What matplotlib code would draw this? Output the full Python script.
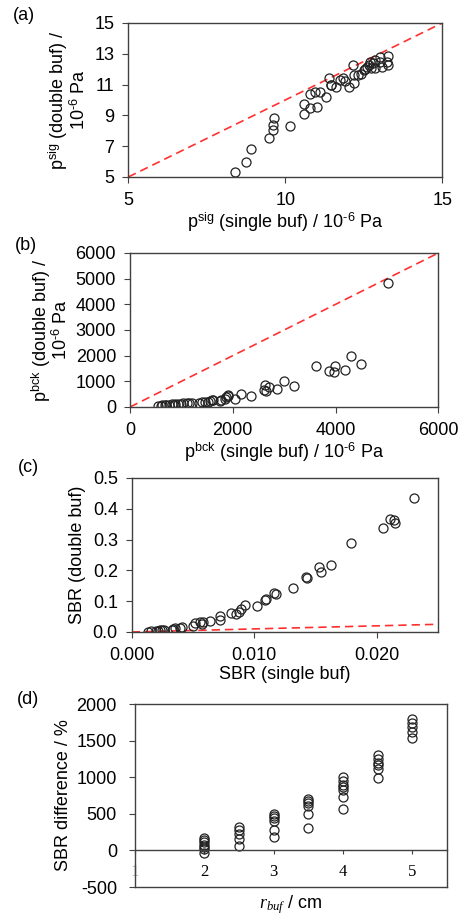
import matplotlib
matplotlib.use("Agg")
import matplotlib.pyplot as plt
import numpy as np

plt.rcParams['font.family'] = ['Liberation Sans', 'DejaVu Sans']
plt.rcParams['mathtext.fontset'] = 'custom'
plt.rcParams['mathtext.rm'] = 'Liberation Sans'
plt.rcParams['mathtext.it'] = 'Liberation Serif:italic'
plt.rcParams['mathtext.bf'] = 'Liberation Sans:bold'
plt.rcParams['axes.unicode_minus'] = False

# (a) p_sig single vs double buffer
a_single = [8.4, 8.75, 8.9, 9.47, 9.61, 9.61, 9.65, 10.14, 10.6, 10.6, 10.78, 11.0,
            10.8, 10.96, 11.1, 11.3, 11.38, 11.44, 11.62, 11.75, 11.85, 12.02, 12.16,
            12.18, 12.2, 12.4, 12.5, 12.6, 12.69, 12.73, 12.87, 12.87, 13.03, 13.08,
            13.24, 13.26, 13.26, 12.78, 12.67, 13.03, 11.9, 11.45, 12.3, 12.55]
a_double = [5.34, 5.95, 6.8, 7.5, 8.05, 8.37, 8.81, 8.31, 9.07, 9.74, 9.46, 9.52,
            10.39, 10.5, 10.5, 10.21, 11.41, 10.98, 10.82, 11.27, 11.4, 10.82, 12.27,
            11.62, 11.12, 11.67, 11.95, 12.15, 12.49, 12.06, 12.59, 12.06, 12.81, 12.16,
            12.49, 12.85, 12.27, 12.38, 12.27, 12.49, 11.2, 10.95, 11.6, 12.0]

# (b) p_bck single vs double buffer
b_single = [5030, 4300, 4500, 4190, 3980, 3870, 3960, 3620, 3200, 3000, 2870, 2700,
            2620, 2600, 2650, 2360, 2160, 2050, 1900, 1870, 1840, 1750, 1600, 1520,
            1450, 1410, 1350, 1200, 1140, 1040, 940, 880, 810, 750, 680, 620, 550,
            1560, 1620, 1780, 1900, 1110, 990, 860, 700, 600]
b_double = [4850, 2000, 1660, 1460, 1600, 1420, 1350, 1580, 830, 1020, 690, 760,
            840, 650, 610, 440, 520, 330, 420, 370, 300, 240, 280, 180,
            200, 180, 150, 170, 160, 140, 130, 110, 100, 90, 80, 60, 40,
            240, 260, 290, 450, 140, 100, 80, 60, 50]

# (c) SBR single vs double buffer
c_single = [0.02299, 0.02108, 0.0214, 0.0215, 0.02046, 0.01786, 0.01623, 0.01527,
            0.0154, 0.01418, 0.01431, 0.01317, 0.01164, 0.0118, 0.01099, 0.0109,
            0.01023, 0.00921, 0.00894, 0.00875, 0.00808, 0.0085, 0.00717, 0.0072,
            0.00635, 0.00572, 0.00585, 0.00553, 0.0052, 0.005, 0.00409, 0.00396,
            0.00355, 0.0034, 0.0033, 0.00245, 0.0023, 0.00217, 0.002, 0.0016,
            0.00133, 0.0026]
c_double = [0.434, 0.367, 0.364, 0.353, 0.337, 0.288, 0.218, 0.212,
            0.196, 0.178, 0.175, 0.144, 0.128, 0.123, 0.106, 0.105,
            0.085, 0.088, 0.074, 0.066, 0.063, 0.058, 0.052, 0.040,
            0.036, 0.025, 0.034, 0.034, 0.029, 0.021, 0.017, 0.012,
            0.012, 0.009, 0.007, 0.005, 0.007, 0.004, 0.004, 0.002,
            0.000, 0.007]

# (d) SBR difference vs buffer radius
d_rbuf = [2, 2, 2, 2, 2, 2, 2,
          2.5, 2.5, 2.5, 2.5, 2.5,
          3, 3, 3, 3, 3, 3,
          3.5, 3.5, 3.5, 3.5, 3.5, 3.5,
          4, 4, 4, 4, 4, 4, 4,
          4.5, 4.5, 4.5, 4.5, 4.5, 4.5,
          5, 5, 5, 5, 5]
d_diff = [170, 140, 110, 80, 50, 20, -30,
          320, 280, 230, 150, 60,
          500, 470, 440, 400, 280, 180,
          700, 680, 650, 600, 500, 310,
          1000, 950, 900, 860, 830, 730, 570,
          1310, 1250, 1200, 1160, 1110, 990,
          1800, 1740, 1680, 1620, 1530]

fig = plt.figure(figsize=(4.68, 9.15), dpi=100)

spine_col = '#404040'
fs = 13
mk = dict(marker='o', linestyle='none', markersize=6.5, markerfacecolor='none',
          markeredgecolor='#222222', markeredgewidth=0.9)
red = dict(color='#ff3030', linestyle=(0, (5, 3)), linewidth=1.2)


def style(ax):
    for s in ax.spines.values():
        s.set_color(spine_col)
        s.set_linewidth(1.0)
    ax.tick_params(direction='out', length=4, width=0.8, color=spine_col,
                   labelsize=fs)
    ax.tick_params(axis='x', pad=7)
    ax.tick_params(axis='y', pad=6)


# (a)
ax1 = fig.add_axes([0.2742, 0.8066, 0.6709, 0.1683])
ax1.plot([5, 15], [5, 15], **red)
ax1.plot(a_single, a_double, **mk)
ax1.set_xlim(5, 15)
ax1.set_ylim(5, 15)
ax1.set_xticks([5, 10, 15])
ax1.set_yticks([5, 7, 9, 11, 13, 15])
style(ax1)
ax1.set_xlabel(r'p$^{\rm sig}$ (single buf) / 10$^{\text{-6}}$ Pa', fontsize=fs, labelpad=1)
ax1.set_ylabel('p$^{\\rm sig}$ (double buf) /\n10$^{\\text{-6}}$ Pa', fontsize=fs,
               labelpad=4, linespacing=0.95)
fig.text(24 / 468, 1 - 16 / 915, '(a)', fontsize=fs, ha='center', va='center')

# (b)
ax2 = fig.add_axes([0.2778, 0.5552, 0.6588, 0.1683])
ax2.plot([0, 6000], [0, 6000], **red)
ax2.plot(b_single, b_double, **mk)
ax2.set_xlim(0, 6000)
ax2.set_ylim(0, 6000)
ax2.set_xticks([0, 2000, 4000, 6000])
ax2.set_yticks(np.arange(0, 6001, 1000))
style(ax2)
ax2.set_xlabel(r'p$^{\rm bck}$ (single buf) / 10$^{\text{-6}}$ Pa', fontsize=fs, labelpad=1)
ax2.set_ylabel('p$^{\\rm bck}$ (double buf) /\n10$^{\\text{-6}}$ Pa', fontsize=fs,
               labelpad=3, linespacing=0.95)
fig.text(26 / 468, 1 - 246 / 915, '(b)', fontsize=fs, ha='center', va='center')

# (c)
ax3 = fig.add_axes([0.2814, 0.3093, 0.6551, 0.1683])
ax3.plot([0, 0.025], [0, 0.025], **red)
ax3.plot(c_single, c_double, **mk)
ax3.set_xlim(0, 0.025)
ax3.set_ylim(0, 0.5)
ax3.set_xticks([0, 0.01, 0.02])
ax3.set_xticklabels(['0.000', '0.010', '0.020'])
ax3.set_yticks([0, 0.1, 0.2, 0.3, 0.4, 0.5])
ax3.set_yticklabels(['0.0', '0.1', '0.2', '0.3', '0.4', '0.5'])
style(ax3)
ax3.set_xlabel('SBR (single buf)', fontsize=fs, labelpad=1)
ax3.set_ylabel('SBR (double buf)', fontsize=fs, labelpad=5)
fig.text(28 / 468, 1 - 468 / 915, '(c)', fontsize=fs, ha='center', va='center')

# (d)
ax4 = fig.add_axes([0.2885, 0.0306, 0.6667, 0.2])
ax4.plot(d_rbuf, d_diff, **mk)
ax4.set_xlim(1, 5.5)
ax4.set_ylim(-500, 2000)
ax4.set_yticks(np.arange(-500, 2001, 500))
style(ax4)
ax4.tick_params(axis='y', pad=9)
ax4.spines['bottom'].set_position(('data', 0))
ax4.axhline(-500, color=spine_col, linewidth=1.0, clip_on=False)
ax4.set_xticks([1, 2, 3, 4, 5])
ax4.set_xticklabels(['1', '2', '3', '4', '5'], family='Liberation Serif')
ax4.tick_params(axis='x', length=3, pad=7, labelsize=12)
ax4.get_xticklabels()[0].set_color('#999999')
ax4.set_xlabel(r'$r_{buf}$ / cm', fontsize=fs, va='center')
ax4.xaxis.set_label_coords(0.5, -0.095)
ax4.set_ylabel('SBR difference / %', fontsize=fs, labelpad=3)
fig.text(28 / 468, 1 - 700 / 915, '(d)', fontsize=fs, ha='center', va='center')

fig.savefig('out.png', dpi=100)
